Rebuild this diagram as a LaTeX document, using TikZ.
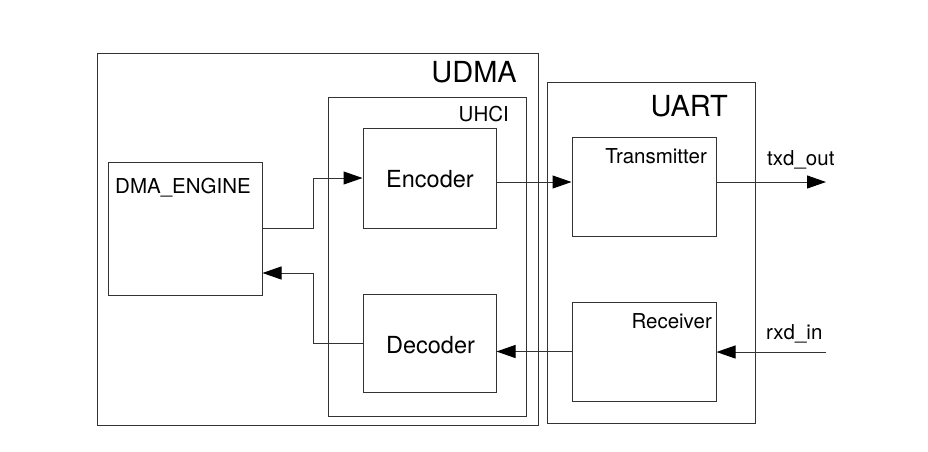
\documentclass[tikz,border=0pt]{standalone}
\usepackage{fontspec}
\setmainfont{TeX Gyre Heros}
\usetikzlibrary{arrows.meta,calc}
\definecolor{ln}{HTML}{333333}
\tikzset{
  box/.style={draw=ln, line width=1pt, fill=none, inner sep=0pt},
  wire/.style={draw=ln, line width=1pt},
  arr/.style={wire, -{Triangle[length=19pt,width=13pt,color=black]}},
  big/.style={inner sep=0pt, font=\fontsize{29}{34}\selectfont},
  mid/.style={inner sep=0pt, font=\fontsize{23.5}{28}\selectfont},
  small/.style={inner sep=0pt, font=\fontsize{20.5}{24}\selectfont},
}
\begin{document}
\begin{tikzpicture}[x=1pt,y=-1pt]
\path[fill=white,use as bounding box] (0,0) rectangle (928,451);
% outer boxes
\node[box, minimum width=441pt, minimum height=372pt] (udma) at (317.5,239) {};
\node[box, minimum width=198pt, minimum height=319pt] (uhci) at (427,256.5) {};
\node[box, minimum width=208pt, minimum height=341pt] (uart) at (651,252.5) {};
% inner boxes
\node[box, minimum width=154pt, minimum height=133pt] (dma) at (185,228.5) {};
\node[box, minimum width=133pt, minimum height=100pt] (enc) at (429.5,178) {};
\node[box, minimum width=133pt, minimum height=98pt] (dec) at (429.5,343) {};
\node[box, minimum width=144pt, minimum height=99pt] (trans) at (644,186.5) {};
\node[box, minimum width=144pt, minimum height=99pt] (rec) at (644,351.5) {};
% labels
\node[big, anchor=base east] (udmal) at (517,82) {UDMA};
\node[small, anchor=base east] (uhcil) at (509,121.5) {UHCI};
\node[big, anchor=base east] (uartl) at (728,116.5) {UART};
\node[small, anchor=base west] (dmal) at (115,193) {DMA\_ENGINE};
\node[mid, anchor=base] (encl) at (430,187) {Encoder};
\node[mid, anchor=base] (decl) at (430.5,353) {Decoder};
\node[small, anchor=base east] (transl) at (707,163) {Transmitter};
\node[small, anchor=base east] (recl) at (712,328) {Receiver};
\node[small, anchor=base west] (txdl) at (767,165) {txd\_out};
\node[small, anchor=base west] (rxdl) at (766,339) {rxd\_in};
% connectors
\coordinate (txdend) at (826,182);
\coordinate (rxdstart) at (826,352);
\coordinate (bus) at (313,0);
\draw[arr] (dma.east) -- (bus |- dma.east) -- (bus |- enc.west) -- (enc.west);
\draw[arr] (dec.west) -- (bus |- dec.west) -- (bus |- 0,273) -- (dma.east |- 0,273);
\draw[arr] (enc.east |- txdend) -- (trans.west |- txdend);
\draw[arr] (rec.west) -- (dec.east |- rec.west);
\draw[arr] (trans.east |- txdend) -- (txdend);
\draw[arr] (rxdstart) -- (rec.east |- rxdstart);
\end{tikzpicture}
\end{document}
